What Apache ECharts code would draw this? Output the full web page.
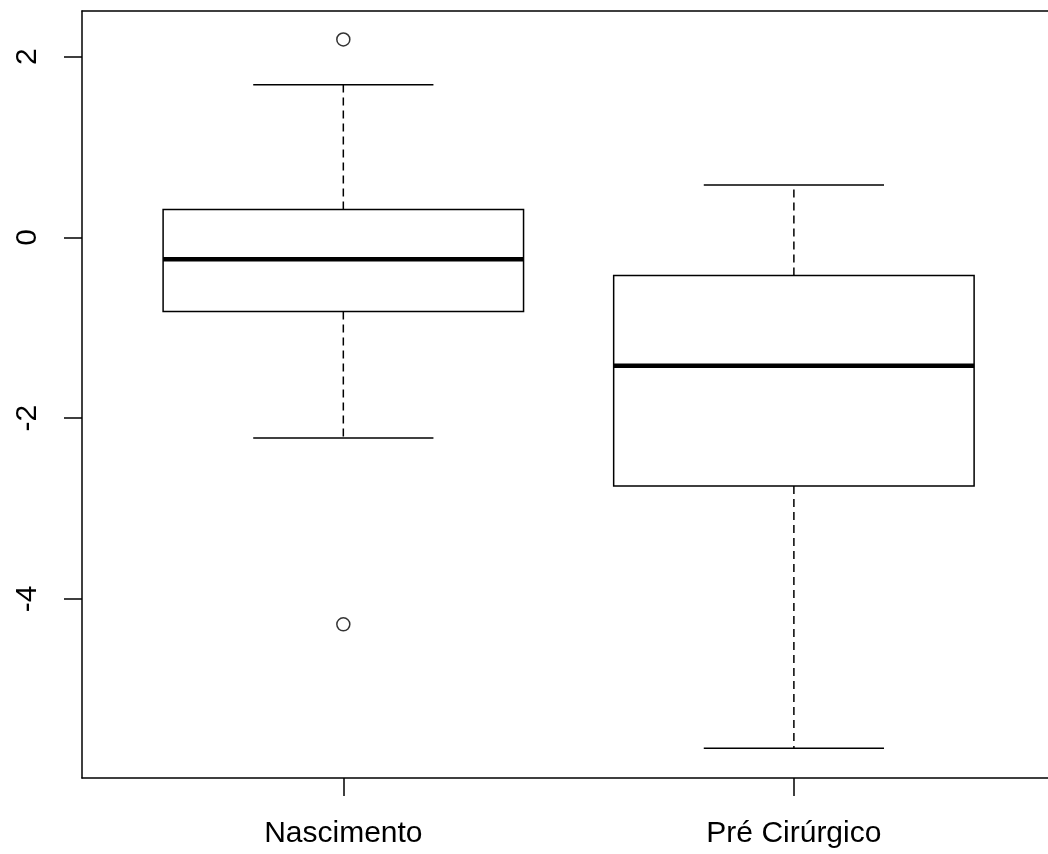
<!DOCTYPE html>
<html>
<head>
<meta charset="utf-8">
<script src="https://cdn.jsdelivr.net/npm/echarts@6/dist/echarts.min.js"></script>
<style>html,body{margin:0;padding:0;background:#fff}#c{width:1048px;height:854px}</style>
</head>
<body>
<div id="c"></div>
<script>
var categories = ["Nascimento", "Pré Cirúrgico"];
var lowerWhisker = [-2.22, -5.65];
var q1 = [-0.82, -2.75];
var median = [-0.24, -1.42];
var q3 = [0.31, -0.42];
var upperWhisker = [1.69, 0.58];
var outlierGroup = [0, 0];
var outlierValue = [2.19, -4.28];
var yTicks = [-4, -2, 0, 2];

var boxData = categories.map(function (c, i) {
  return [i + 1, lowerWhisker[i], q1[i], median[i], q3[i], upperWhisker[i]];
});
var outData = outlierGroup.map(function (g, i) { return [g + 1, outlierValue[i]]; });

var chart = echarts.init(document.getElementById('c'), null, {renderer: 'canvas'});
var font = 'Liberation Sans, Arial, sans-serif';
var frame = {show: true, onZero: false, lineStyle: {color: '#000', width: 1.5}};
chart.setOption({
  animation: false,
  backgroundColor: '#fff',
  grid: {left: 82, top: 11, right: 0, bottom: 76, show: false},
  xAxis: [{
    type: 'value', min: 0.42, max: 2.564, position: 'bottom',
    axisLine: frame,
    splitLine: {show: false},
    axisTick: {show: true, customValues: [1, 2], length: 18, lineStyle: {color: '#000', width: 1.5}},
    axisLabel: {customValues: [1, 2], margin: 41, color: '#000', fontSize: 30, fontFamily: font,
      formatter: function (v) { return categories[Math.round(v) - 1]; }}
  }, {
    type: 'value', min: 0.42, max: 2.564, position: 'top',
    axisLine: frame,
    splitLine: {show: false},
    axisTick: {show: false},
    axisLabel: {show: false}
  }],
  yAxis: {
    type: 'value', min: -5.98, max: 2.505,
    axisLine: frame,
    splitLine: {show: false},
    axisTick: {show: true, customValues: yTicks, length: 18, lineStyle: {color: '#000', width: 1.5}},
    axisLabel: {customValues: yTicks, rotate: 90, margin: 39, color: '#000', fontSize: 30, fontFamily: font}
  },
  series: [
    {
      type: 'custom',
      data: boxData,
      renderItem: function (params, api) {
        var x = api.value(0);
        var lo = api.coord([x, api.value(1)]);
        var b1 = api.coord([x, api.value(2)]);
        var md = api.coord([x, api.value(3)]);
        var b3 = api.coord([x, api.value(4)]);
        var hi = api.coord([x, api.value(5)]);
        var left = api.coord([x - 0.4, 0])[0];
        var right = api.coord([x + 0.4, 0])[0];
        var cl = api.coord([x - 0.2, 0])[0];
        var cr = api.coord([x + 0.2, 0])[0];
        var cx = lo[0];
        var st = {stroke: '#000', lineWidth: 1.5, fill: null};
        var dash = {stroke: '#000', lineWidth: 1.5, lineDash: [8, 5]};
        return {
          type: 'group',
          children: [
            {type: 'line', shape: {x1: cx, y1: b3[1], x2: cx, y2: hi[1]}, style: dash},
            {type: 'line', shape: {x1: cx, y1: b1[1], x2: cx, y2: lo[1]}, style: dash},
            {type: 'line', shape: {x1: cl, y1: hi[1], x2: cr, y2: hi[1]}, style: st},
            {type: 'line', shape: {x1: cl, y1: lo[1], x2: cr, y2: lo[1]}, style: st},
            {type: 'rect', shape: {x: left, y: b3[1], width: right - left, height: b1[1] - b3[1]}, style: {stroke: '#000', lineWidth: 1.5, fill: '#fff'}},
            {type: 'line', shape: {x1: left, y1: md[1], x2: right, y2: md[1]}, style: {stroke: '#000', lineWidth: 4.5}}
          ]
        };
      }
    },
    {
      type: 'scatter',
      data: outData,
      symbol: 'circle',
      symbolSize: 13,
      itemStyle: {color: '#fff', borderColor: '#000', borderWidth: 1.5}
    }
  ]
});
</script>
</body>
</html>
